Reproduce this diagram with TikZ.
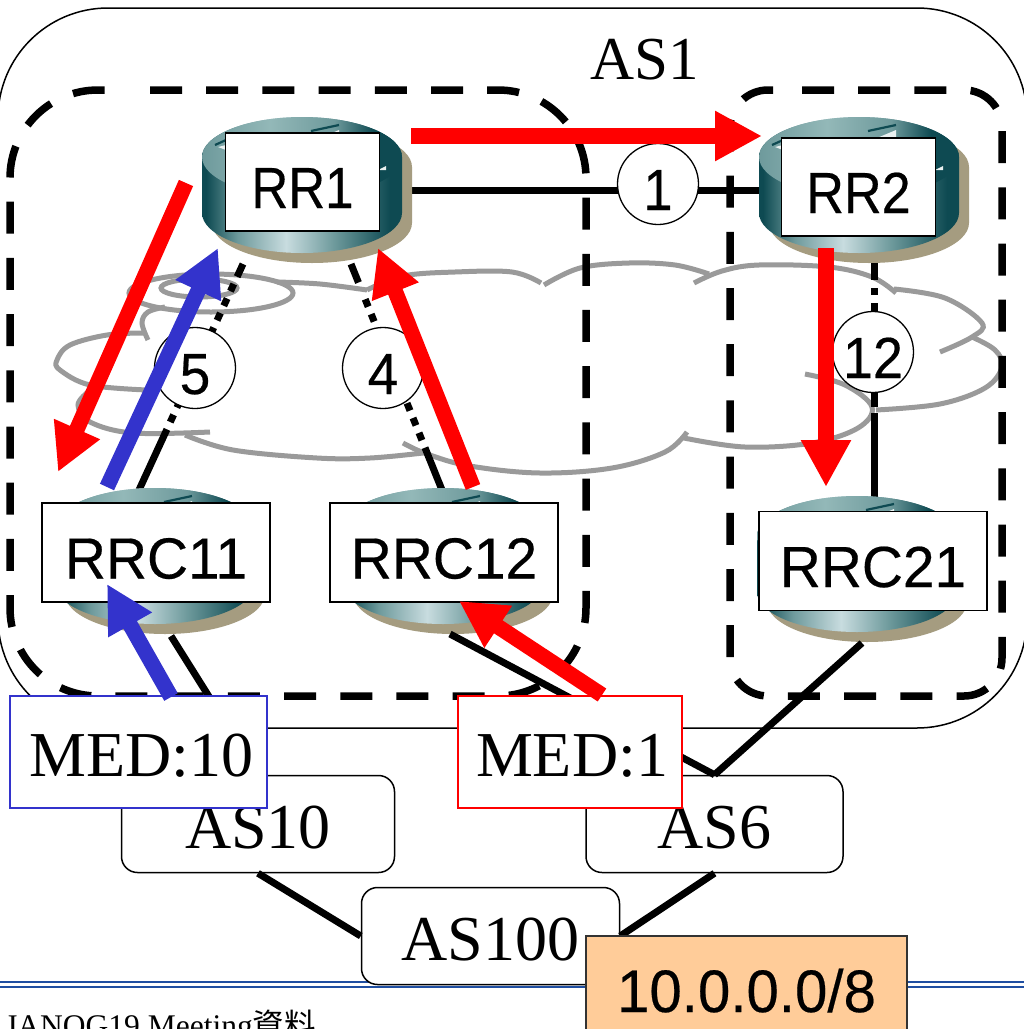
\documentclass[tikz,border=0pt]{standalone}
\usepackage{fontspec}
\setmainfont{Liberation Serif}
\newfontfamily\gothic[FakeBold=0.35]{Liberation Sans}
\newfontfamily\cjkfont{Noto Sans CJK JP}
\usetikzlibrary{arrows.meta}
\definecolor{rd}{HTML}{0E4A52}
\definecolor{rm}{HTML}{6E9A9C}
\definecolor{rl}{HTML}{C8DCDF}
\definecolor{rt}{HTML}{93B8B8}
\definecolor{rtan}{HTML}{A59C80}
\definecolor{cloudgray}{HTML}{9A9A9A}
\definecolor{medblue}{HTML}{3333CC}
\definecolor{prefix}{HTML}{FFCC99}
\definecolor{footline}{HTML}{1F4EA1}
\pgfdeclarehorizontalshading{rside}{100bp}{color(0bp)=(rd);color(26bp)=(rd);color(34bp)=(rm);color(46bp)=(rl);color(58bp)=(rm);color(72bp)=(rd);color(100bp)=(rd)}
\pgfdeclarehorizontalshading{rtop}{100bp}{color(0bp)=(rm);color(25bp)=(rm);color(42bp)=(rt);color(58bp)=(rm);color(68bp)=(rd);color(100bp)=(rd)}
\newcommand{\gth}[2]{\scalebox{#1}[1]{\gothic\fontsize{58}{58}\selectfont #2}}
\newcommand{\routerbody}[2]{%
\begin{scope}[shift={(#1,#2)}]
\fill[rtan] (10,50) -- (10,106) .. controls (10,128) and (55,146) .. (110,146) .. controls (165,146) and (210,128) .. (210,106) -- (210,50) .. controls (210,28) and (165,10) .. (110,10) .. controls (55,10) and (10,28) .. (10,50) -- cycle;
\shade[shading=rside] (0,40) -- (0,96) .. controls (0,118) and (45,136) .. (100,136) .. controls (155,136) and (200,118) .. (200,96) -- (200,40) .. controls (200,18) and (155,0) .. (100,0) .. controls (45,0) and (0,18) .. (0,40) -- cycle;
\shade[shading=rtop] (0,40) .. controls (0,18) and (45,0) .. (100,0) .. controls (155,0) and (200,18) .. (200,40) .. controls (200,62) and (155,80) .. (100,80) .. controls (45,80) and (0,62) .. (0,40) -- cycle;
\fill[white!85!rm] (118,21) -- (137,13) -- (137,22) -- cycle;
\draw[rd,line width=2.2pt] (109,14) -- (137,8);
\fill[white!85!rm] (16,30) -- (24,28) -- (24,33) -- cycle;
\draw[rd,line width=2.2pt] (13,28) -- (24,23);
\fill[white!85!rm] (176,53) -- (184,49) -- (184,53) -- cycle;
\end{scope}}
\tikzset{
 x=1pt,y=-1pt,
 rlabel/.style={draw=black,line width=1.5pt,fill=white,inner sep=0pt,text height=52pt,text depth=0pt},
 rrbox/.style={rlabel,minimum width=154pt,minimum height=98pt},
 rrcbox/.style={rlabel,minimum width=228pt,minimum height=99pt},
 asbox/.style={draw=black,line width=1.5pt,fill=white,rounded corners=16pt,inner sep=0pt,minimum height=97pt,font=\fontsize{64}{64}\selectfont,text height=48pt,text depth=0pt},
 medbox/.style={line width=1.6pt,fill=white,inner sep=0pt,minimum width=224pt,minimum height=112pt,font=\fontsize{64}{64}\selectfont,text height=48pt,text depth=0pt},
 stepcircle/.style={circle,draw=black,line width=1.3pt,fill=white,inner sep=0pt,minimum size=81pt,text height=52pt,text depth=0pt},
 ibgpdash/.style={line width=7pt,black},
 linkline/.style={line width=7pt,black},
 clusterline/.style={line width=7.5pt,black,dash pattern=on 32pt off 24.2pt},
 cloudline/.style={line width=5pt,cloudgray},
 fatred/.style={line width=15.5pt,red,-{Triangle[length=47pt,width=47pt]}},
 fatblue/.style={line width=15.5pt,medblue,-{Triangle[length=47pt,width=47pt]}},
}
\begin{document}
\begin{tikzpicture}
\useasboundingbox (0,0) rectangle (1024,1029);
\clip (0,0) rectangle (1024,1029);
\fill[white] (0,0) rectangle (1024,1029);
% footer rule
\coordinate (ruleLa) at (0,982); \coordinate (ruleRa) at (1024,982);
\coordinate (ruleLb) at (0,987); \coordinate (ruleRb) at (1024,987);
\draw[footline,line width=2.4pt] (ruleLa) -- (ruleRa);
\draw[footline,line width=2.4pt] (ruleLb) -- (ruleRb);
\node[anchor=base west,inner sep=0pt,font=\fontsize{31.5}{31.5}\selectfont] (footer) at (5,1036) {JANOG19 Meeting{\cjkfont 資料}};
% AS1
\draw[black,line width=1.5pt,rounded corners=110pt] (-2,8) rectangle (1027,728);
\node[anchor=base,inner sep=0pt,font=\fontsize{61}{61}\selectfont] (AS1) at (645,79) {AS1};
% cloud
\begin{scope}[cloudline]
\draw (211,293) ellipse [x radius=82,y radius=19];
\draw (199,288) ellipse [x radius=38,y radius=9];
\draw plot[smooth,tension=.6] coordinates {(277,282) (320,284) (367,290)};
\draw plot[smooth,tension=.6] coordinates {(367,290) (403,276) (455,272) (512,272) (541,283)};
\draw plot[smooth,tension=.6] coordinates {(544,285) (580,268) (629,263) (675,265) (709,274)};
\draw plot[smooth,tension=.6] coordinates {(694,283) (722,271) (759,265) (829,267) (872,277) (896,293)};
\draw plot[smooth,tension=.6] coordinates {(894,289) (945,298) (982,323) (972,337) (940,352)};
\draw plot[smooth,tension=.6] coordinates {(972,337) (995,350) (1002,367) (985,388) (940,404) (876,410)};
\draw plot[smooth,tension=.6] coordinates {(805,374) (845,385) (872,407) (858,428) (812,443) (745,447) (684,438)};
\draw plot[smooth,tension=.6] coordinates {(687,432) (665,452) (612,468) (540,473) (470,466) (427,454) (403,443)};
\draw plot[smooth,tension=.6] coordinates {(423,453) (370,458) (317,458) (233,450) (185,435)};
\draw plot[smooth,tension=.6] coordinates {(210,432) (133,433) (90,422) (78,405) (88,392)};
\draw plot[smooth,tension=.6] coordinates {(147,390) (90,385) (60,370) (57,360) (70,345) (107,335) (143,333)};
\draw plot[smooth,tension=.6] coordinates {(148,340) (142,323) (148,312) (165,307)};
\end{scope}
% cluster outlines
\coordinate (clAa) at (150,90); \coordinate (clAb) at (586,90); \coordinate (clAc) at (586,696); \coordinate (clAd) at (10,696); \coordinate (clAe) at (10,90); \coordinate (clAf) at (125,90);
\draw[clusterline,rounded corners=88pt] (clAa) -- (clAb) -- (clAc) -- (clAd) -- (clAe) -- (clAf);
\coordinate (clBa) at (802,90); \coordinate (clBb) at (1002,90); \coordinate (clBc) at (1002,696); \coordinate (clBd) at (730,696); \coordinate (clBe) at (730,90); \coordinate (clBf) at (775,90);
\draw[clusterline,rounded corners=38pt] (clBa) -- (clBb) -- (clBc) -- (clBd) -- (clBe) -- (clBf);
% link ends at the routers
\coordinate (RR1e) at (400,190); \coordinate (RR2w) at (770,190);
\coordinate (RR1sw) at (243,264); \coordinate (RR1se) at (351,264);
\coordinate (R11n) at (139,490); \coordinate (R12n) at (442,490);
\coordinate (RR2s) at (874,262); \coordinate (R21n) at (874,499);
\coordinate (R11s) at (171,636); \coordinate (R12s) at (450,634); \coordinate (R21s) at (862,643);
% iBGP links
\draw[linkline] (RR1e) -- (RR2w);
\draw[ibgpdash,dash pattern=on 14pt off 8pt on 8pt off 8pt on 8pt off 8pt on 8pt off 8pt on 8pt off 8pt on 8pt off 8pt on 8pt off 8pt on 8pt off 8pt on 8pt off 8pt on 8pt off 8pt on 8pt off 8pt on 100pt off 50pt] (RR1sw) -- (R11n);
\draw[ibgpdash,dash pattern=on 20pt off 18pt on 8pt off 8pt on 8pt off 8pt on 8pt off 8pt on 8pt off 8pt on 8pt off 8pt on 8pt off 8pt on 8pt off 8pt on 8pt off 8pt on 8pt off 8pt on 8pt off 8pt on 100pt off 50pt] (RR1se) -- (R12n);
\draw[ibgpdash,dash pattern=on 18pt off 8pt on 7pt off 8pt on 104pt off 6pt on 100pt off 50pt] (RR2s) -- (R21n);
% routers
\routerbody{202}{117}
\routerbody{759}{117}
\routerbody{55}{488}
\routerbody{343}{488}
\routerbody{757}{496}
\node[rrbox] (RR1) at (302.5,182) {\gth{.88}{RR1}};
\node[rrbox] (RR2) at (858.5,187) {\gth{.9}{RR2}};
\node[rrcbox] (RRC11) at (156,552.5) {\gth{.98}{RRC11}};
\node[rrcbox] (RRC12) at (444,552.5) {\gth{.98}{RRC12}};
\node[rrcbox] (RRC21) at (873,561) {\gth{.98}{RRC21}};
% AS boxes
\node[asbox,minimum width=273pt] (AS10) at (258,824) {AS10};
\node[asbox,minimum width=257pt] (AS6) at (714.5,824) {AS6};
\node[asbox,minimum width=258pt] (AS100) at (490.5,936) {AS100};
% eBGP links
\draw[linkline] (R11s) -- (AS10.north);
\draw[linkline] (R12s) -- (AS6.north);
\draw[linkline] (R21s) -- (AS6.north);
\draw[linkline] (AS10.south) -- (AS100.west);
\draw[linkline] (AS6.south) -- (AS100.east);
% prefix
\node[draw=black!80,line width=1.5pt,fill=prefix,inner sep=0pt,minimum width=321pt,minimum height=100pt,text height=52pt,text depth=0pt] (PFX) at (746.5,986) {\scalebox{.97}[1]{\gothic\fontsize{60}{60}\selectfont 10.0.0.0/8}};
% MED
\node[medbox,draw=medblue,minimum width=257pt] (MEDten) at (138.5,752) {\hspace{6pt}MED:10};
\node[medbox,draw=red] (MEDone) at (570,752) {\hspace{4pt}MED:1};
% step numbers
\node[stepcircle] (S1) at (658,184) {\gth{.9}{1}};
\node[stepcircle] (S5) at (195,368) {\gth{.95}{5}};
\node[stepcircle] (S4) at (383,368) {\gth{.95}{4}};
\node[stepcircle] (S12) at (873,352) {\gth{.93}{12}};
% arrows
\coordinate (a1s) at (411,136); \coordinate (a1t) at (762,136);
\coordinate (a2s) at (186,183); \coordinate (a2t) at (58,472);
\coordinate (a3s) at (107,487); \coordinate (a3t) at (218,248);
\coordinate (a4s) at (473,487); \coordinate (a4t) at (378,248);
\coordinate (a5s) at (826,248); \coordinate (a5t) at (826,487);
\coordinate (a6s) at (171,697); \coordinate (a6t) at (107,584);
\coordinate (a7s) at (602,695); \coordinate (a7t) at (459,601);
\draw[fatred] (a1s) -- (a1t);
\draw[fatred] (a2s) -- (a2t);
\draw[fatblue] (a3s) -- (a3t);
\draw[fatred] (a4s) -- (a4t);
\draw[fatred] (a5s) -- (a5t);
\draw[fatblue] (a6s) -- (a6t);
\draw[fatred] (a7s) -- (a7t);
\end{tikzpicture}
\end{document}
